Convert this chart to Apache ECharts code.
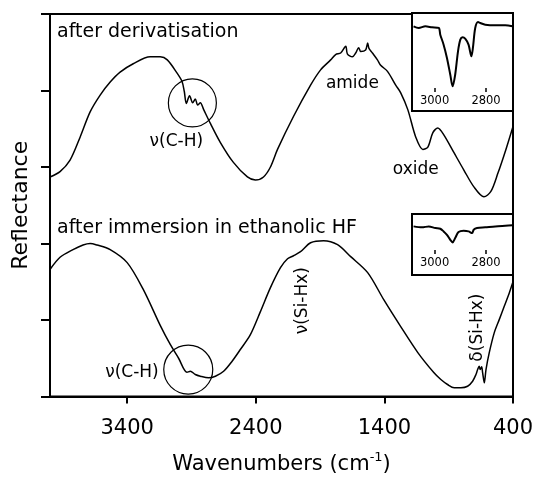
<!DOCTYPE html>
<html>
<head>
<meta charset="utf-8">
<script src="https://cdn.jsdelivr.net/npm/echarts@6/dist/echarts.min.js"></script>
<style>html,body{margin:0;padding:0;background:#fff}#c{width:537px;height:480px}</style>
</head>
<body>
<div id="c"></div>
<script>
// Main spectrum: after derivatisation
const derivWn = [4000,3922,3844,3766,3688,3610,3532,3455,3353,3221,3143,3088,3013,2974,2956,2940,2915,2891,2870,2852,2831,2805,2753,2675,2574,2465,2403,2340,2286,2231,2107,1974,1896,1818,1779,1740,1700,1688,1649,1623,1600,1584,1546,1530,1520,1493,1454,1429,1376,1312,1273,1218,1156,1101,1062,1023,985,938,860,782,704,626,572,517,455,400];
const derivR = [2.87,2.94,3.09,3.39,3.72,3.94,4.11,4.24,4.35,4.44,4.44,4.40,4.23,4.12,3.99,3.83,3.93,3.84,3.89,3.81,3.84,3.75,3.57,3.32,3.06,2.87,2.83,2.87,3.00,3.23,3.66,4.07,4.27,4.40,4.47,4.49,4.58,4.48,4.44,4.49,4.56,4.51,4.53,4.62,4.55,4.49,4.40,4.33,4.25,4.07,3.97,3.75,3.39,3.23,3.26,3.45,3.51,3.42,3.19,2.96,2.74,2.61,2.68,2.92,3.23,3.53];
// Main spectrum: after immersion in ethanolic HF
const hfWn = [4000,3922,3821,3743,3688,3634,3532,3400,3275,3143,3065,3000,2935,2909,2870,2831,2767,2714,2650,2584,2520,2442,2364,2286,2208,2153,2107,2052,1974,1873,1764,1662,1530,1405,1273,1140,1016,961,909,857,805,753,714,688,675,663,655,644,636,623,610,585,546,507,468,429,400];
const hfR = [1.66,1.82,1.92,1.98,2.00,1.98,1.92,1.75,1.40,0.93,0.68,0.50,0.317,0.330,0.287,0.265,0.244,0.265,0.330,0.461,0.614,0.809,1.110,1.423,1.684,1.800,1.840,1.893,2.010,2.037,1.984,1.828,1.619,1.266,0.914,0.574,0.313,0.222,0.157,0.114,0.114,0.134,0.200,0.287,0.352,0.396,0.352,0.388,0.309,0.179,0.352,0.570,0.832,1.005,1.179,1.354,1.50];
// Insets (C-H region)
const ins1Wn = [3082,3062,3036,3010,2984,2978,2965,2952,2939,2930,2920,2909,2900,2891,2881,2868,2857,2851,2842,2831,2822,2803,2764,2725,2697];
const ins1R = [0.864,0.847,0.864,0.854,0.847,0.779,0.677,0.541,0.370,0.252,0.370,0.609,0.728,0.752,0.738,0.677,0.558,0.643,0.847,0.908,0.898,0.881,0.874,0.874,0.864];
const ins2Wn = [3082,3049,3023,2997,2978,2965,2952,2939,2930,2920,2907,2887,2868,2854,2848,2835,2803,2764,2725,2697];
const ins2R = [0.797,0.781,0.797,0.769,0.758,0.715,0.659,0.577,0.534,0.605,0.703,0.725,0.715,0.687,0.741,0.769,0.781,0.797,0.807,0.814];
// Tick labels
const mainTicks = [400,1400,2400,3400];
const insetTicks = [3000,2800];

const zip = (a,b) => a.map((v,i) => [v,b[i]]);
const FONT = 'DejaVu Sans';
const K = '#000';
const plain = v => String(v);

function txt(text, coord, opts) {
  return {
    coord: coord, symbol: 'circle', symbolSize: 1,
    itemStyle: {color: 'rgba(0,0,0,0)'},
    label: Object.assign({show: true, position: 'inside', formatter: text, color: K, fontFamily: FONT, fontSize: 17}, opts || {})
  };
}
function ring(coord, size) {
  return {coord: coord, symbol: 'circle', symbolSize: size,
    itemStyle: {color: 'rgba(0,0,0,0)', borderColor: K, borderWidth: 1.2}, label: {show: false}};
}

const chart = echarts.init(document.getElementById('c'), null, {renderer: 'canvas'});
chart.setOption({
  animation: false,
  backgroundColor: '#fff',
  grid: [
    {left: 50, top: 14, width: 463, height: 383, show: true, borderColor: K, borderWidth: 2, backgroundColor: 'transparent'},
    {left: 412, top: 13, width: 101, height: 98, show: true, borderColor: K, borderWidth: 2, backgroundColor: '#fff'},
    {left: 412, top: 214, width: 101, height: 61, show: true, borderColor: K, borderWidth: 2, backgroundColor: '#fff'}
  ],
  xAxis: [
    {gridIndex: 0, type: 'value', min: 400, max: 4000, inverse: true,
     axisLine: {show: true, lineStyle: {color: K, width: 2}},
     axisTick: {show: true, length: 7, lineStyle: {color: K, width: 2}, customValues: mainTicks},
     axisLabel: {color: K, fontFamily: FONT, fontSize: 21, margin: 22, customValues: mainTicks, formatter: plain},
     splitLine: {show: false},
     name: '{a|Wavenumbers (cm}{b|-1}{a|)}', nameLocation: 'middle', nameGap: 55,
     nameTextStyle: {rich: {a: {fontFamily: FONT, fontSize: 21, color: K, lineHeight: 26}, b: {fontFamily: FONT, fontSize: 13, color: K, verticalAlign: 'top', lineHeight: 14}}}},
    {gridIndex: 1, type: 'value', min: 2695, max: 3088, inverse: true, offset: -19,
     axisLine: {show: false},
     axisTick: {show: true, inside: true, length: 4, lineStyle: {color: K, width: 1.5}, customValues: insetTicks},
     axisLabel: {color: K, fontFamily: FONT, fontSize: 11.5, margin: 3, customValues: insetTicks, formatter: plain},
     splitLine: {show: false}},
    {gridIndex: 2, type: 'value', min: 2695, max: 3088, inverse: true, offset: -21,
     axisLine: {show: false},
     axisTick: {show: true, inside: true, length: 4, lineStyle: {color: K, width: 1.5}, customValues: insetTicks},
     axisLabel: {color: K, fontFamily: FONT, fontSize: 11.5, margin: 3, customValues: insetTicks, formatter: plain},
     splitLine: {show: false}}
  ],
  yAxis: [
    {gridIndex: 0, type: 'value', min: 0, max: 5, interval: 1,
     axisLine: {show: true, lineStyle: {color: K, width: 2}},
     axisTick: {show: true, length: 9, lineStyle: {color: K, width: 2}},
     axisLabel: {show: false}, splitLine: {show: false},
     name: 'Reflectance', nameLocation: 'middle', nameGap: 18,
     nameTextStyle: {fontFamily: FONT, fontSize: 22, color: K}},
    {gridIndex: 1, type: 'value', min: 0, max: 1, show: false},
    {gridIndex: 2, type: 'value', min: 0, max: 1, show: false}
  ],
  series: [
    {type: 'line', xAxisIndex: 0, yAxisIndex: 0, data: zip(derivWn, derivR), showSymbol: false, smooth: 0.3,
     lineStyle: {color: K, width: 1.5}, silent: true,
     markPoint: {silent: true, animation: false, data: [
       ring([2893, 3.838], 48),
       txt('after derivatisation', [3945, 4.765], {align: 'left', fontSize: 19}),
       txt('\u03bd(C-H)', [3018, 3.329]),
       txt('amide', [1649, 4.095]),
       txt('oxide', [1156, 2.963])
     ]}},
    {type: 'line', xAxisIndex: 0, yAxisIndex: 0, data: zip(hfWn, hfR), showSymbol: false, smooth: 0.3,
     lineStyle: {color: K, width: 1.5}, silent: true,
     markPoint: {silent: true, animation: false, data: [
       ring([2925, 0.352], 49),
       txt('after immersion in ethanolic HF', [3945, 2.206], {align: 'left', fontSize: 19}),
       txt('\u03bd(C-H)', [3363, 0.309]),
       txt('\u03bd(Si-Hx)', [2036, 1.253], {rotate: 90}),
       txt('\u03b4(Si-Hx)', [675, 0.901], {rotate: 90})
     ]}},
    {type: 'line', xAxisIndex: 1, yAxisIndex: 1, data: zip(ins1Wn, ins1R), showSymbol: false, smooth: 0.3,
     lineStyle: {color: K, width: 2}, silent: true},
    {type: 'line', xAxisIndex: 2, yAxisIndex: 2, data: zip(ins2Wn, ins2R), showSymbol: false, smooth: 0.3,
     lineStyle: {color: K, width: 2}, silent: true}
  ]
});
</script>
</body>
</html>
